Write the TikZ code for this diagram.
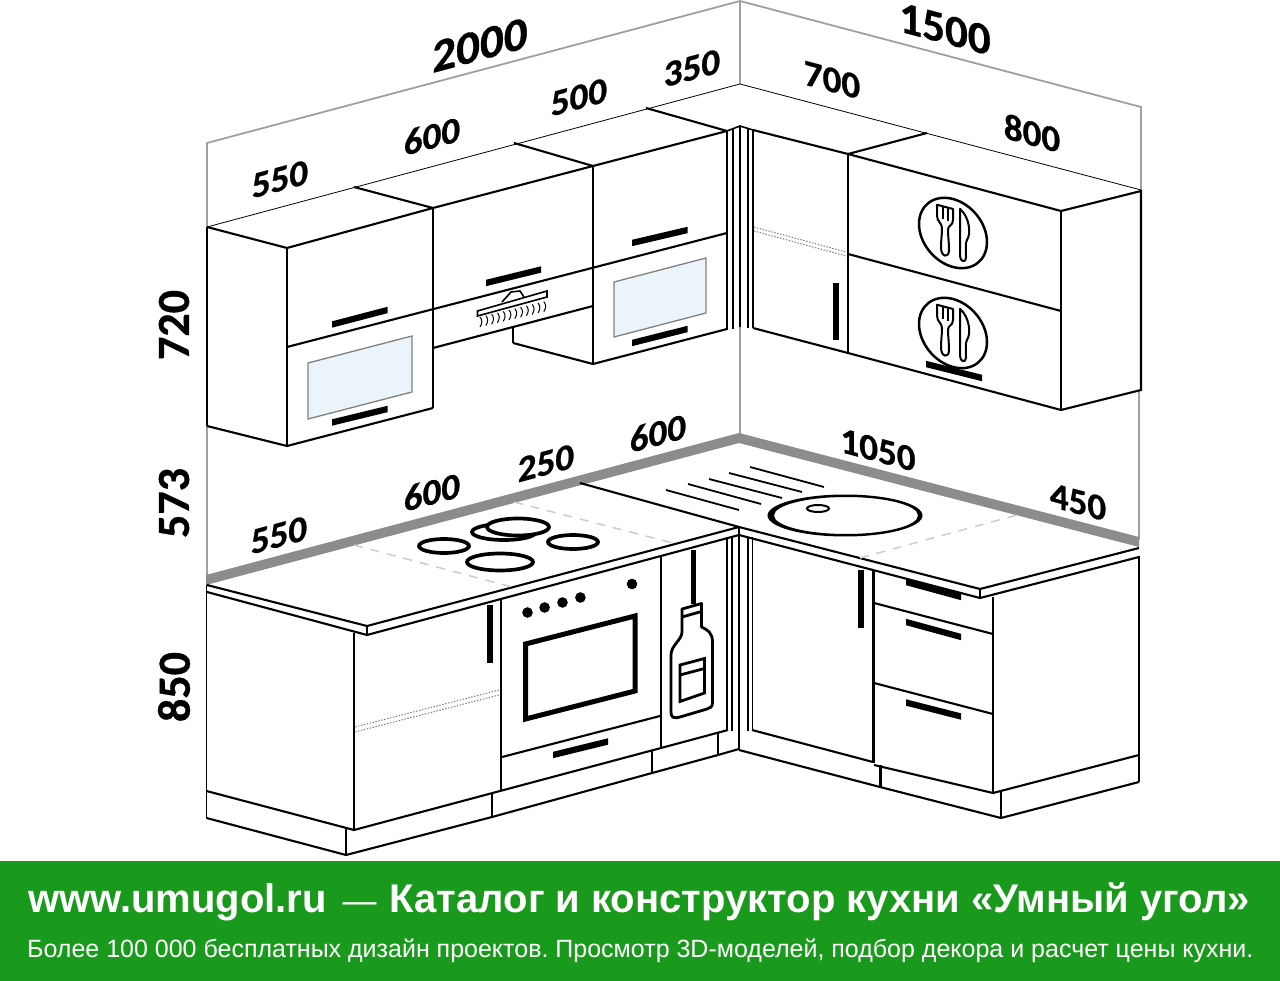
\documentclass[tikz,border=0pt]{standalone}
\usepackage{fontspec}
\setmainfont{Liberation Sans}
\newfontfamily\dimfont{Carlito}[BoldFont={Carlito Bold},BoldFeatures={FakeBold=0.7}]
\definecolor{bargreen}{HTML}{1A9A1C}
\definecolor{glassblue}{HTML}{ECF4FB}
\definecolor{wallgray}{HTML}{A0A0A0}
\definecolor{bandgray}{HTML}{8C8C8C}
\tikzset{
  wall/.style={draw=wallgray, line width=1.8pt},
  edge/.style={draw=black, line width=2.1pt, line join=miter},
  slim/.style={draw=black, line width=1.6pt},
  topline/.style={draw=black, line width=.8pt},
  dotline/.style={draw=gray, line width=1pt, dash pattern=on 1.5pt off 1.5pt},
  hobdash/.style={draw=black!20, line width=1.5pt, dash pattern=on 9pt off 8pt},
  glass/.style={draw=gray, line width=1.3pt, fill=glassblue},
  ring/.style={draw=black, line width=3.7pt, fill=white},
  drip/.style={draw=black, line width=1.8pt},
  dim/.style={font=\dimfont\bfseries, text=black, inner sep=0pt, transform shape},
  icon/.style={draw=black, line width=2pt, line join=round, fill=white},
  bartext/.style={text=white, anchor=base west, inner sep=0pt}
}
% label that lies in the plane of a wall
\newcommand{\dimlabel}[6]{\begin{scope}[shift={(#2,#3)},yslant=#4]
  \node[dim] (#1) {\fontsize{#5}{#5}\selectfont #6};
\end{scope}}
\newcommand{\handlebar}[4]{\fill[black] (#1,#2-3.2) -- (#3,#4-3.2) -- (#3,#4+3.2) -- (#1,#2+3.2) -- cycle;}
\newcommand{\cutlery}[2]{\begin{scope}[shift={(#1,#2)},yslant=-.266]
  \draw[draw=black, line width=2.5pt, fill=white] (0,0) circle[radius=34];
  \draw[icon] (-16,-24) -- (-16,-13) .. controls (-16,-7) and (-11,-7) .. (-11,-2) .. controls (-11,5) and (-12,10) .. (-12,18) .. controls (-12,27) and (-4,27) .. (-4,18) .. controls (-4,10) and (-5,5) .. (-5,-2) .. controls (-5,-7) and (0,-7) .. (0,-13) -- (0,-24) -- cycle;
  \draw[icon] (-10.5,-24) -- (-10.5,-11) (-5.5,-24) -- (-5.5,-11);
  \draw[icon] (7,-26) -- (7,21) .. controls (7,27) and (13,27) .. (13,21) .. controls (13,12) and (12,8) .. (14,3) .. controls (18,-3) and (17,-20) .. (7,-26) -- cycle;
\end{scope}}

\begin{document}
\begin{tikzpicture}[x=1pt, y=-1pt]
  \useasboundingbox (0,0) rectangle (1280,981);

  % walls
  \draw[wall] (207,227) -- (207,143) -- (740,1) -- (1141,107) -- (1141,191);
  \draw[wall] (740,1) -- (740,84);
  \draw[wall] (207,426) -- (207,585);
  \draw[wall] (740,327) -- (740,434);
  \draw[wall] (1139,390) -- (1139,540);
  \fill[bandgray] (206,575) -- (739,433) -- (1139,537) -- (1139,547) -- (739,443) -- (206,585) -- cycle;

  % upper cabinets, left run
  \draw[topline] (207,227) -- (740,84) -- (1141,190);
  \draw[edge] (354,187) -- (433,208);
  \draw[edge] (514,143) -- (593,166);
  \draw[edge] (646,108) -- (727,131);
  \draw[edge] (207,227) -- (287,248) -- (433,208) -- (593,166) -- (727,131);
  \draw[slim] (207,227) -- (207,426);
  \draw[slim] (287,248) -- (287,446);
  \draw[slim] (433,208) -- (433,408);
  \draw[slim] (593,166) -- (593,364);
  \draw[edge] (207,426) -- (287,446) -- (433,408);
  \draw[edge] (287,347) -- (727,233);
  \draw[edge] (433,348) -- (593,306);
  \draw[slim] (513,328) -- (513,343);
  \draw[edge] (513,343) -- (593,364) -- (727,329);
  \draw[glass] (308,363) -- (412,336) -- (412,392) -- (308,419) -- cycle;
  \draw[glass] (614,282) -- (706,258) -- (706,313) -- (614,337) -- cycle;
  \handlebar{332}{324.5}{387.5}{310}
  \handlebar{332}{422.5}{387.5}{409}
  \handlebar{486}{283}{541}{269.5}
  \handlebar{632}{243}{687.5}{230}
  \handlebar{632}{343}{687.5}{329}

  % hood
  \draw[slim, fill=white] (477.5,311) -- (547,291) -- (547,297) -- (477.5,316) -- cycle;
  \draw[slim] (502,302) -- (511,292) -- (520,291) -- (524,297);
  \foreach \i [evaluate=\i as \sx using 480+\i*5.8, evaluate=\i as \sy using 322-\i*1.4] in {0,...,11}
    \draw[black, line width=1pt] (\sx,\sy-5) .. controls (\sx+2.5,\sy-2) and (\sx+2.5,\sy+1) .. (\sx,\sy+5);

  % corner filler, top
  \foreach \cx/\ty/\by in {727/131/330, 733/129/329, 740/126/327, 748/128/328, 753/130/328}
    \draw[slim] (\cx,\ty) -- (\cx,\by);
  \draw[slim] (727,131) -- (740,126) -- (753,130);

  % upper cabinets, right run
  \draw[edge] (753,130) -- (848,154) -- (1061,211) -- (1141,191) -- (1141,390) -- (1061,410) -- (848,353) -- (753,328);
  \draw[edge] (848,154) -- (927,133);
  \draw[slim] (848,154) -- (848,353);
  \draw[edge] (1061,211) -- (1061,410);
  \draw[edge] (848,254) -- (1061,311);
  \draw[dotline] (754,227) -- (846,252);
  \draw[dotline] (754,231) -- (846,256);
  \fill[black] (833,283) rectangle (839,340);
  \cutlery{953}{233}
  \cutlery{953}{333}
  \handlebar{926}{364}{982}{378}

  % worktop
  \draw[edge] (207,585) -- (367,626) -- (739,527);
  \draw[edge] (207,592) -- (367,635) -- (739,535);
  \draw[slim] (367,626) -- (367,635);
  \draw[edge] (580,483) -- (739,527) -- (980,589) -- (1139,548);
  \draw[edge] (739,535) -- (980,598) -- (1139,557);
  \draw[slim] (980,589) -- (980,598);
  \draw[hobdash] (354,545) -- (512,587);
  \draw[hobdash] (514,502) -- (673,543);
  \draw[hobdash] (860,558) -- (1017,515);

  % hob
  \draw[ring] (444,546) ellipse [x radius=25, y radius=7];
  \draw[ring] (573,542) ellipse [x radius=25, y radius=7];
  \draw[ring] (500,562) ellipse [x radius=33, y radius=8.5];
  \draw[ring] (504,532) ellipse [x radius=32, y radius=8];
  \draw[ring] (518,527) ellipse [x radius=31, y radius=8.5];

  % sink
  \draw[drip] (750,467) -- (824,487);
  \draw[drip] (729,473) -- (802,492);
  \draw[drip] (709,479) -- (782,498);
  \draw[drip] (688,484) -- (761,504);
  \draw[drip] (666,490) -- (739,510);
  \fill[black, even odd rule] (845,515.5) ellipse [x radius=77.5, y radius=21] (846,515.5) ellipse [x radius=72, y radius=18.5];
  \draw[black, line width=2pt] (818,508.5) ellipse [x radius=11, y radius=3.5];

  % base cabinets, left run
  \draw[slim] (206.5,585) -- (206.5,818);
  \draw[slim] (354,633) -- (354,830);
  \draw[slim] (501,600) -- (501,791);
  \draw[slim] (661,557) -- (661,748);
  \draw[edge] (206.5,791) -- (354,830) -- (661,748);
  \draw[edge] (206.5,818) -- (346,855) -- (492,817) -- (652,773) -- (718,755) -- (739,749);
  \draw[slim] (346,829) -- (346,855);
  \draw[slim] (492,794) -- (492,817);
  \draw[slim] (652,751) -- (652,773);
  \draw[slim] (718,733) -- (718,755);
  \draw[edge] (661,748) -- (728,730);
  \draw[dotline] (355,727) -- (499,690);
  \draw[dotline] (355,732) -- (499,695);
  \fill[black] (487,605) rectangle (493,663);

  % oven
  \draw[edge] (502,757) -- (660,716);
  \draw[draw=black, line width=5pt, line join=miter] (525.5,644) -- (635,616) -- (635,691) -- (525.5,719) -- cycle;
  \foreach \kx/\ky in {527.5/612.5, 544.6/607.5, 562.5/602.5, 580.4/597.5, 632/584}
    \fill[black] (\kx,\ky) circle[radius=5.3];
  \handlebar{553}{755}{608}{741.5}

  % bottle
  \fill[black] (690.5,550) rectangle (696,604);
  \draw[draw=black, line width=2.8pt, line join=round, fill=white] (682,609) -- (701.5,603.5) -- (701.5,627) .. controls (708,630) and (712.5,633) .. (712.5,642) -- (712.5,703) .. controls (712.5,707) and (710,708) .. (707,709) -- (680,717) .. controls (673,719) and (671,717) .. (671,712) -- (671,655) .. controls (671,645) and (682,640) .. (682,632) -- cycle;
  \draw[black, line width=2.8pt] (682,617) -- (701.5,611.5);
  \draw[black, line width=2.8pt] (680,665) -- (704.5,658.5) -- (704.5,693) -- (680,701.5) -- cycle (680,675) -- (704.5,668.5);

  % corner filler, bottom
  \foreach \cx in {727,732,748,752.5}
    \draw[slim] (\cx,537) -- (\cx,731);
  \draw[edge] (739,527) -- (739,749);

  % base cabinets, right run
  \draw[edge] (752,730) -- (873,762);
  \draw[edge] (739,750) -- (880,787) -- (1001,818) -- (1139,782);
  \draw[edge] (874,765) -- (993,793) -- (1139,755);
  \draw[line width=3pt] (873,570) -- (873,763);
  \draw[line width=3pt] (880,765) -- (880,787);
  \draw[slim] (1001,792) -- (1001,818);
  \draw[slim] (993,597) -- (993,793);
  \draw[slim] (1139,556) -- (1139,782);
  \draw[edge] (874,603) -- (993,634);
  \draw[edge] (874,683) -- (993,714);
  \fill[black] (858,570) rectangle (864,628);
  \handlebar{906}{582}{961}{597}
  \handlebar{906}{622}{961}{637}
  \handlebar{906}{702.5}{961}{716.5}

  % sizes
  \dimlabel{sizeTopLeft}{480}{45}{.268}{47}{2000}
  \dimlabel{sizeTopRight}{945}{29}{-.268}{45}{1500}
  \dimlabel{sizeUpA}{280}{179}{.268}{37}{550}
  \dimlabel{sizeUpB}{432}{136}{.268}{37}{600}
  \dimlabel{sizeUpC}{579}{97}{.268}{37}{500}
  \dimlabel{sizeUpD}{692}{68}{.268}{37}{350}
  \dimlabel{sizeUpE}{832}{80}{-.268}{37}{700}
  \dimlabel{sizeUpF}{1032}{133}{-.268}{37}{800}
  \dimlabel{sizeLowA}{279}{535}{.268}{37}{550}
  \dimlabel{sizeLowB}{432}{492}{.268}{37}{600}
  \dimlabel{sizeLowC}{546}{463}{.268}{37}{250}
  \dimlabel{sizeLowD}{658}{433}{.268}{37}{600}
  \dimlabel{sizeLowE}{878}{450}{-.268}{37}{1050}
  \dimlabel{sizeLowF}{1078}{502}{-.268}{37}{450}
  \node[dim, rotate=90, font=\dimfont\bfseries\fontsize{46}{46}\selectfont] (sizeUpper) at (174,325) {720};
  \node[dim, rotate=90, font=\dimfont\bfseries\fontsize{46}{46}\selectfont] (sizeGap) at (174,503) {573};
  \node[dim, rotate=90, font=\dimfont\bfseries\fontsize{46}{46}\selectfont] (sizeBase) at (174,687) {850};

  % banner
  \fill[bargreen] (0,861) rectangle (1280,981);
  \node[bartext, font=\bfseries\fontsize{40}{40}\selectfont] (bannerTitle) at (28,912) {www.umugol.ru\hspace{16pt}{\mdseries\fontsize{34}{34}\selectfont —}\hspace{13pt}Каталог и конструктор кухни «Умный угол»};
  \node[bartext, font=\frenchspacing\fontsize{25}{25}\selectfont] (bannerText) at (27,957) {Более 100 000 бесплатных дизайн проектов. Просмотр 3D-моделей, подбор декора и расчет цены кухни.};
\end{tikzpicture}
\end{document}
